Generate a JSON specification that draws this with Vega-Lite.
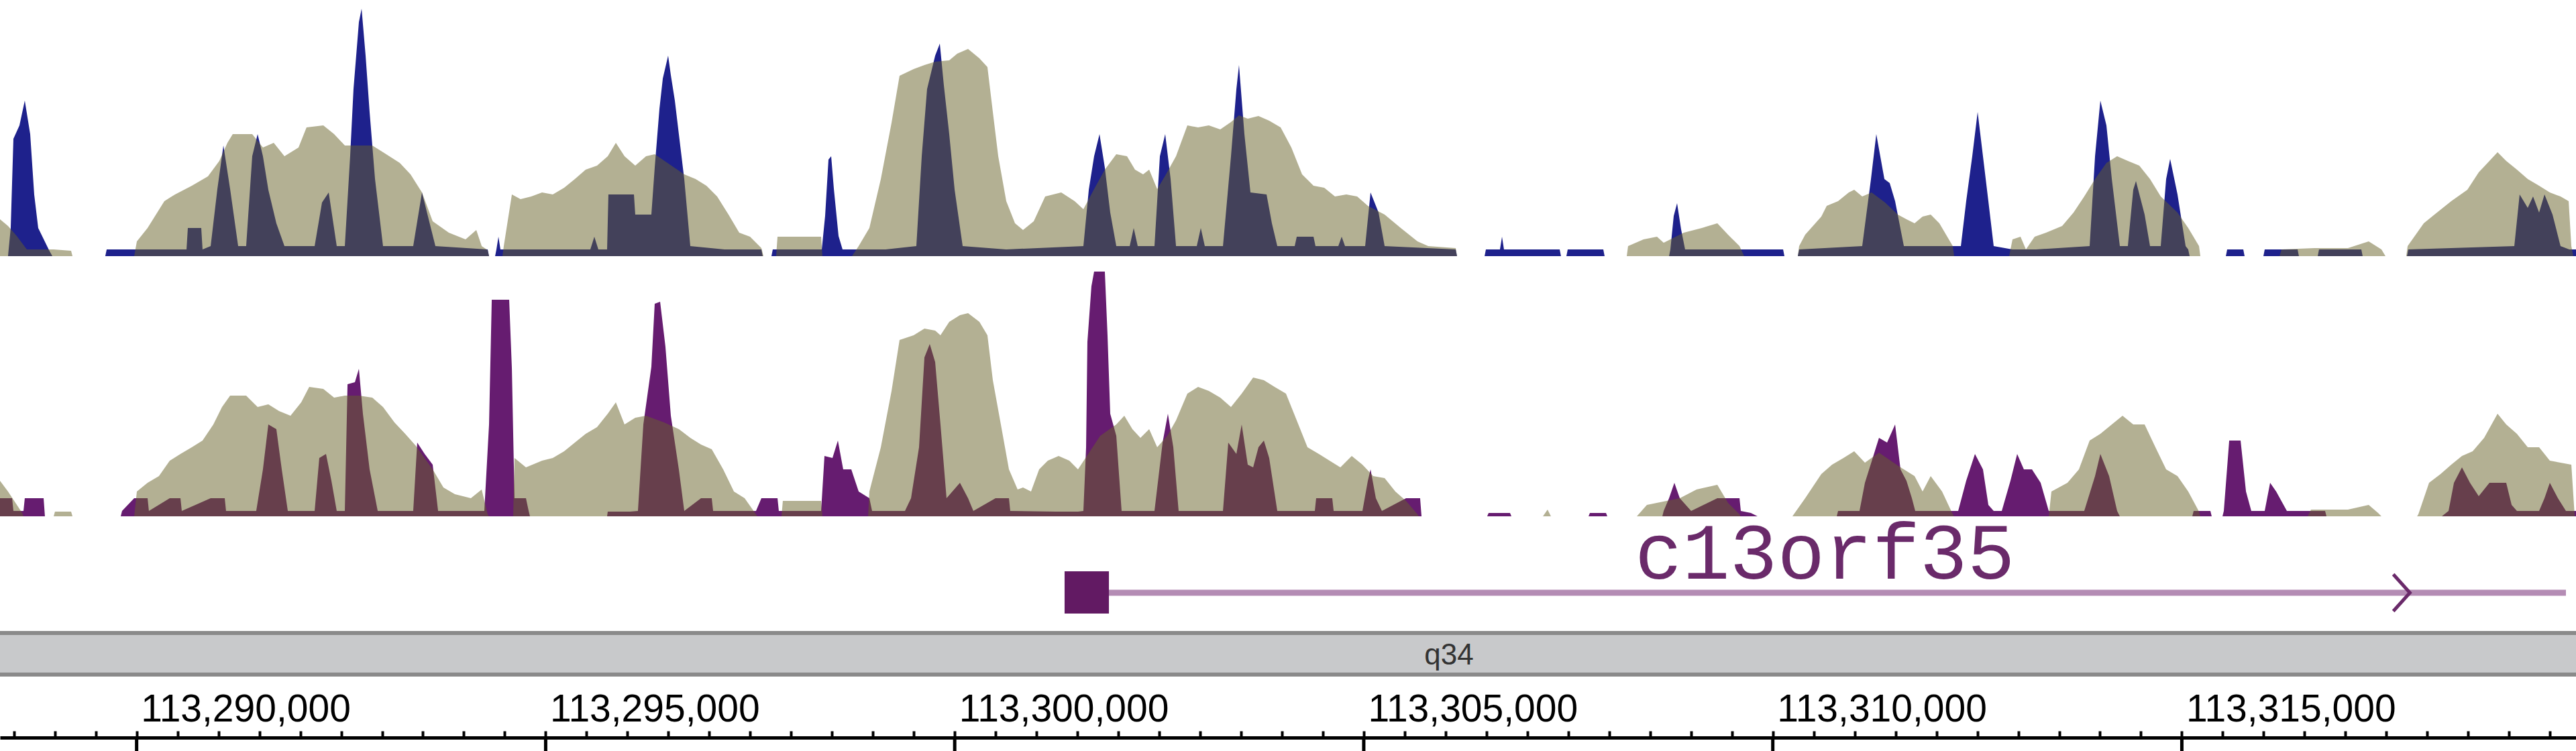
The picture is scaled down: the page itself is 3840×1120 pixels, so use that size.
{
"$schema":"https://vega.github.io/schema/vega-lite/v6.json",
"padding":0,
"background":"white",
"spacing":0,
"bounds":"flush",
"config":{"view":{"stroke":null}},
"datasets":{
"navy":[{"pos":113288428,"v":0},{"pos":113288461,"v":42},{"pos":113288494,"v":175},{"pos":113288568,"v":195},{"pos":113288633,"v":232},{"pos":113288699,"v":182},{"pos":113288748,"v":92},{"pos":113288797,"v":42},{"pos":113288929,"v":9},{"pos":113288970,"v":0},{"pos":113289617,"v":0},{"pos":113289634,"v":10},{"pos":113290610,"v":10},{"pos":113290626,"v":42},{"pos":113290790,"v":42},{"pos":113290806,"v":10},{"pos":113290905,"v":15},{"pos":113290987,"v":100},{"pos":113291061,"v":165},{"pos":113291143,"v":100},{"pos":113291241,"v":15},{"pos":113291339,"v":15},{"pos":113291413,"v":149},{"pos":113291479,"v":182},{"pos":113291544,"v":149},{"pos":113291610,"v":99},{"pos":113291708,"v":49},{"pos":113291807,"v":15},{"pos":113292176,"v":15},{"pos":113292266,"v":80},{"pos":113292348,"v":95},{"pos":113292446,"v":15},{"pos":113292545,"v":15},{"pos":113292610,"v":149},{"pos":113292651,"v":249},{"pos":113292717,"v":349},{"pos":113292750,"v":369},{"pos":113292799,"v":299},{"pos":113292848,"v":215},{"pos":113292914,"v":115},{"pos":113293012,"v":15},{"pos":113293381,"v":15},{"pos":113293488,"v":95},{"pos":113293652,"v":15},{"pos":113294291,"v":10},{"pos":113294308,"v":0},{"pos":113294382,"v":0},{"pos":113294398,"v":10},{"pos":113294423,"v":29},{"pos":113294447,"v":10},{"pos":113295546,"v":10},{"pos":113295595,"v":29},{"pos":113295644,"v":10},{"pos":113295751,"v":10},{"pos":113295767,"v":92},{"pos":113296079,"v":92},{"pos":113296095,"v":62},{"pos":113296292,"v":62},{"pos":113296333,"v":132},{"pos":113296391,"v":220},{"pos":113296432,"v":265},{"pos":113296497,"v":299},{"pos":113296530,"v":270},{"pos":113296579,"v":232},{"pos":113296628,"v":182},{"pos":113296694,"v":115},{"pos":113296768,"v":15},{"pos":113297186,"v":10},{"pos":113297637,"v":10},{"pos":113297653,"v":0},{"pos":113297760,"v":0},{"pos":113297776,"v":10},{"pos":113298375,"v":10},{"pos":113298416,"v":60},{"pos":113298457,"v":144},{"pos":113298490,"v":149},{"pos":113298523,"v":100},{"pos":113298580,"v":30},{"pos":113298629,"v":10},{"pos":113299154,"v":10},{"pos":113299531,"v":15},{"pos":113299597,"v":149},{"pos":113299662,"v":249},{"pos":113299761,"v":299},{"pos":113299818,"v":317},{"pos":113299867,"v":255},{"pos":113299933,"v":182},{"pos":113299999,"v":99},{"pos":113300097,"v":15},{"pos":113300630,"v":10},{"pos":113301573,"v":15},{"pos":113301639,"v":99},{"pos":113301704,"v":149},{"pos":113301770,"v":182},{"pos":113301835,"v":132},{"pos":113301901,"v":65},{"pos":113301975,"v":15},{"pos":113302139,"v":15},{"pos":113302188,"v":42},{"pos":113302237,"v":15},{"pos":113302442,"v":15},{"pos":113302508,"v":149},{"pos":113302573,"v":182},{"pos":113302639,"v":115},{"pos":113302705,"v":15},{"pos":113302959,"v":15},{"pos":113303008,"v":42},{"pos":113303057,"v":15},{"pos":113303279,"v":15},{"pos":113303377,"v":149},{"pos":113303443,"v":249},{"pos":113303475,"v":285},{"pos":113303541,"v":182},{"pos":113303615,"v":95},{"pos":113303812,"v":92},{"pos":113303877,"v":49},{"pos":113303943,"v":15},{"pos":113304156,"v":15},{"pos":113304181,"v":29},{"pos":113304386,"v":29},{"pos":113304410,"v":15},{"pos":113304689,"v":15},{"pos":113304730,"v":29},{"pos":113304771,"v":15},{"pos":113305017,"v":15},{"pos":113305083,"v":95},{"pos":113305181,"v":65},{"pos":113305255,"v":15},{"pos":113306124,"v":10},{"pos":113306140,"v":0},{"pos":113306477,"v":0},{"pos":113306493,"v":10},{"pos":113306665,"v":10},{"pos":113306690,"v":29},{"pos":113306714,"v":10},{"pos":113307395,"v":10},{"pos":113307411,"v":0},{"pos":113307477,"v":0},{"pos":113307493,"v":10},{"pos":113307928,"v":10},{"pos":113307944,"v":0},{"pos":113308732,"v":0},{"pos":113308748,"v":10},{"pos":113308789,"v":60},{"pos":113308830,"v":79},{"pos":113308879,"v":40},{"pos":113308928,"v":10},{"pos":113310126,"v":10},{"pos":113310142,"v":0},{"pos":113310306,"v":0},{"pos":113310322,"v":10},{"pos":113311093,"v":15},{"pos":113311200,"v":115},{"pos":113311265,"v":182},{"pos":113311364,"v":115},{"pos":113311429,"v":109},{"pos":113311495,"v":82},{"pos":113311602,"v":15},{"pos":113312299,"v":15},{"pos":113312364,"v":82},{"pos":113312438,"v":149},{"pos":113312504,"v":215},{"pos":113312569,"v":149},{"pos":113312635,"v":82},{"pos":113312700,"v":15},{"pos":113312930,"v":10},{"pos":113313217,"v":10},{"pos":113313873,"v":15},{"pos":113313939,"v":149},{"pos":113314004,"v":232},{"pos":113314078,"v":195},{"pos":113314144,"v":115},{"pos":113314242,"v":15},{"pos":113314340,"v":15},{"pos":113314406,"v":99},{"pos":113314439,"v":112},{"pos":113314545,"v":62},{"pos":113314611,"v":15},{"pos":113314742,"v":15},{"pos":113314808,"v":115},{"pos":113314857,"v":145},{"pos":113314947,"v":92},{"pos":113315046,"v":15},{"pos":113315078,"v":10},{"pos":113315095,"v":0},{"pos":113315538,"v":0},{"pos":113315554,"v":10},{"pos":113315751,"v":10},{"pos":113315767,"v":0},{"pos":113315997,"v":0},{"pos":113316013,"v":10},{"pos":113316415,"v":10},{"pos":113316431,"v":0},{"pos":113316661,"v":0},{"pos":113316677,"v":10},{"pos":113317194,"v":10},{"pos":113317210,"v":0},{"pos":113317752,"v":0},{"pos":113317768,"v":10},{"pos":113319064,"v":15},{"pos":113319129,"v":92},{"pos":113319228,"v":72},{"pos":113319293,"v":89},{"pos":113319367,"v":65},{"pos":113319433,"v":92},{"pos":113319531,"v":62},{"pos":113319629,"v":15},{"pos":113319736,"v":10},{"pos":113319818,"v":10}],
"khaki1":[{"pos":113288330,"v":55},{"pos":113288428,"v":45},{"pos":113288535,"v":30},{"pos":113288658,"v":10},{"pos":113288986,"v":10},{"pos":113289199,"v":8},{"pos":113289216,"v":0},{"pos":113289970,"v":0},{"pos":113290003,"v":22},{"pos":113290134,"v":42},{"pos":113290339,"v":82},{"pos":113290470,"v":92},{"pos":113290675,"v":105},{"pos":113290872,"v":119},{"pos":113291011,"v":142},{"pos":113291110,"v":169},{"pos":113291175,"v":182},{"pos":113291413,"v":182},{"pos":113291544,"v":162},{"pos":113291676,"v":169},{"pos":113291807,"v":149},{"pos":113291979,"v":162},{"pos":113292077,"v":192},{"pos":113292282,"v":195},{"pos":113292414,"v":182},{"pos":113292545,"v":165},{"pos":113292881,"v":165},{"pos":113293012,"v":155},{"pos":113293217,"v":139},{"pos":113293348,"v":122},{"pos":113293488,"v":95},{"pos":113293619,"v":52},{"pos":113293816,"v":35},{"pos":113294021,"v":25},{"pos":113294152,"v":39},{"pos":113294218,"v":15},{"pos":113294291,"v":9},{"pos":113294308,"v":0},{"pos":113294472,"v":0},{"pos":113294488,"v":15},{"pos":113294587,"v":92},{"pos":113294693,"v":85},{"pos":113294824,"v":89},{"pos":113294956,"v":95},{"pos":113295087,"v":92},{"pos":113295226,"v":102},{"pos":113295357,"v":115},{"pos":113295489,"v":129},{"pos":113295628,"v":135},{"pos":113295759,"v":149},{"pos":113295858,"v":169},{"pos":113295964,"v":149},{"pos":113296095,"v":135},{"pos":113296227,"v":149},{"pos":113296333,"v":152},{"pos":113296694,"v":122},{"pos":113296833,"v":115},{"pos":113296965,"v":105},{"pos":113297096,"v":89},{"pos":113297235,"v":62},{"pos":113297366,"v":35},{"pos":113297498,"v":29},{"pos":113297637,"v":12},{"pos":113297662,"v":0},{"pos":113297817,"v":0},{"pos":113297834,"v":29},{"pos":113298367,"v":29},{"pos":113298383,"v":0},{"pos":113298744,"v":0},{"pos":113298826,"v":15},{"pos":113298957,"v":42},{"pos":113299097,"v":115},{"pos":113299228,"v":199},{"pos":113299326,"v":269},{"pos":113299498,"v":279},{"pos":113299630,"v":285},{"pos":113299761,"v":290},{"pos":113299933,"v":292},{"pos":113300031,"v":302},{"pos":113300163,"v":309},{"pos":113300302,"v":295},{"pos":113300400,"v":282},{"pos":113300466,"v":215},{"pos":113300532,"v":149},{"pos":113300630,"v":82},{"pos":113300737,"v":49},{"pos":113300835,"v":39},{"pos":113300966,"v":52},{"pos":113301106,"v":89},{"pos":113301302,"v":95},{"pos":113301466,"v":82},{"pos":113301573,"v":70},{"pos":113301704,"v":100},{"pos":113301835,"v":129},{"pos":113301975,"v":152},{"pos":113302106,"v":149},{"pos":113302204,"v":129},{"pos":113302303,"v":122},{"pos":113302377,"v":129},{"pos":113302475,"v":100},{"pos":113302573,"v":120},{"pos":113302705,"v":149},{"pos":113302844,"v":195},{"pos":113302975,"v":192},{"pos":113303106,"v":195},{"pos":113303246,"v":189},{"pos":113303377,"v":200},{"pos":113303475,"v":210},{"pos":113303582,"v":205},{"pos":113303713,"v":209},{"pos":113303844,"v":202},{"pos":113303984,"v":192},{"pos":113304115,"v":162},{"pos":113304246,"v":122},{"pos":113304386,"v":105},{"pos":113304517,"v":102},{"pos":113304648,"v":89},{"pos":113304787,"v":92},{"pos":113304919,"v":89},{"pos":113305050,"v":75},{"pos":113305255,"v":62},{"pos":113305452,"v":42},{"pos":113305657,"v":22},{"pos":113305788,"v":15},{"pos":113306124,"v":12},{"pos":113306140,"v":0},{"pos":113308215,"v":0},{"pos":113308231,"v":15},{"pos":113308420,"v":25},{"pos":113308584,"v":29},{"pos":113308666,"v":20},{"pos":113308748,"v":25},{"pos":113308912,"v":35},{"pos":113309133,"v":42},{"pos":113309322,"v":49},{"pos":113309453,"v":32},{"pos":113309593,"v":15},{"pos":113309650,"v":0},{"pos":113310306,"v":0},{"pos":113310322,"v":15},{"pos":113310396,"v":32},{"pos":113310593,"v":59},{"pos":113310659,"v":75},{"pos":113310798,"v":82},{"pos":113310929,"v":95},{"pos":113310995,"v":99},{"pos":113311093,"v":89},{"pos":113311208,"v":95},{"pos":113311372,"v":80},{"pos":113311528,"v":62},{"pos":113311634,"v":55},{"pos":113311733,"v":49},{"pos":113311831,"v":59},{"pos":113311930,"v":62},{"pos":113312036,"v":49},{"pos":113312200,"v":15},{"pos":113312217,"v":0},{"pos":113312889,"v":0},{"pos":113312930,"v":25},{"pos":113313028,"v":29},{"pos":113313094,"v":10},{"pos":113313201,"v":29},{"pos":113313340,"v":35},{"pos":113313537,"v":45},{"pos":113313676,"v":65},{"pos":113313807,"v":89},{"pos":113313939,"v":115},{"pos":113314078,"v":139},{"pos":113314209,"v":149},{"pos":113314340,"v":142},{"pos":113314480,"v":135},{"pos":113314611,"v":115},{"pos":113314742,"v":89},{"pos":113314947,"v":65},{"pos":113315078,"v":42},{"pos":113315210,"v":15},{"pos":113315226,"v":0},{"pos":113316194,"v":0},{"pos":113316218,"v":10},{"pos":113316620,"v":12},{"pos":113317030,"v":12},{"pos":113317284,"v":22},{"pos":113317440,"v":10},{"pos":113317489,"v":0},{"pos":113317743,"v":0},{"pos":113317760,"v":15},{"pos":113317957,"v":49},{"pos":113318088,"v":62},{"pos":113318293,"v":82},{"pos":113318490,"v":99},{"pos":113318629,"v":125},{"pos":113318760,"v":142},{"pos":113318859,"v":155},{"pos":113318965,"v":142},{"pos":113319096,"v":129},{"pos":113319228,"v":115},{"pos":113319367,"v":105},{"pos":113319498,"v":95},{"pos":113319629,"v":89},{"pos":113319728,"v":82},{"pos":113319761,"v":15},{"pos":113319785,"v":0}],
"purple":[{"pos":113288330,"v":27},{"pos":113288478,"v":27},{"pos":113288494,"v":8},{"pos":113288617,"v":8},{"pos":113288633,"v":27},{"pos":113288863,"v":27},{"pos":113288879,"v":0},{"pos":113289806,"v":0},{"pos":113289822,"v":8},{"pos":113289970,"v":27},{"pos":113290134,"v":27},{"pos":113290150,"v":8},{"pos":113290405,"v":27},{"pos":113290536,"v":27},{"pos":113290552,"v":8},{"pos":113290905,"v":27},{"pos":113291077,"v":27},{"pos":113291093,"v":8},{"pos":113291462,"v":8},{"pos":113291544,"v":70},{"pos":113291610,"v":137},{"pos":113291708,"v":130},{"pos":113291774,"v":70},{"pos":113291848,"v":8},{"pos":113292176,"v":8},{"pos":113292233,"v":87},{"pos":113292315,"v":93},{"pos":113292381,"v":53},{"pos":113292446,"v":8},{"pos":113292545,"v":8},{"pos":113292578,"v":197},{"pos":113292668,"v":200},{"pos":113292717,"v":220},{"pos":113292766,"v":153},{"pos":113292848,"v":70},{"pos":113292947,"v":8},{"pos":113293381,"v":8},{"pos":113293430,"v":110},{"pos":113293521,"v":93},{"pos":113293619,"v":77},{"pos":113293685,"v":8},{"pos":113294250,"v":8},{"pos":113294308,"v":137},{"pos":113294341,"v":323},{"pos":113294554,"v":323},{"pos":113294587,"v":220},{"pos":113294619,"v":27},{"pos":113294759,"v":27},{"pos":113294792,"v":8},{"pos":113294808,"v":0},{"pos":113295751,"v":0},{"pos":113295759,"v":7},{"pos":113296030,"v":7},{"pos":113296128,"v":8},{"pos":113296194,"v":137},{"pos":113296292,"v":223},{"pos":113296333,"v":317},{"pos":113296399,"v":320},{"pos":113296464,"v":253},{"pos":113296530,"v":150},{"pos":113296628,"v":70},{"pos":113296694,"v":8},{"pos":113296899,"v":27},{"pos":113297030,"v":27},{"pos":113297047,"v":8},{"pos":113297571,"v":8},{"pos":113297637,"v":27},{"pos":113297834,"v":27},{"pos":113297850,"v":8},{"pos":113298367,"v":8},{"pos":113298408,"v":90},{"pos":113298506,"v":87},{"pos":113298572,"v":113},{"pos":113298637,"v":70},{"pos":113298736,"v":70},{"pos":113298826,"v":37},{"pos":113298957,"v":27},{"pos":113298990,"v":8},{"pos":113299392,"v":8},{"pos":113299466,"v":27},{"pos":113299564,"v":103},{"pos":113299630,"v":237},{"pos":113299695,"v":257},{"pos":113299761,"v":230},{"pos":113299826,"v":137},{"pos":113299900,"v":27},{"pos":113300064,"v":50},{"pos":113300163,"v":27},{"pos":113300228,"v":8},{"pos":113300499,"v":27},{"pos":113300663,"v":27},{"pos":113300679,"v":8},{"pos":113301237,"v":7},{"pos":113301507,"v":7},{"pos":113301573,"v":8},{"pos":113301606,"v":103},{"pos":113301622,"v":260},{"pos":113301671,"v":343},{"pos":113301704,"v":365},{"pos":113301835,"v":365},{"pos":113301868,"v":270},{"pos":113301901,"v":153},{"pos":113301975,"v":120},{"pos":113302040,"v":8},{"pos":113302442,"v":8},{"pos":113302541,"v":110},{"pos":113302606,"v":153},{"pos":113302672,"v":103},{"pos":113302737,"v":8},{"pos":113303279,"v":8},{"pos":113303344,"v":110},{"pos":113303443,"v":93},{"pos":113303508,"v":137},{"pos":113303582,"v":77},{"pos":113303648,"v":73},{"pos":113303713,"v":103},{"pos":113303779,"v":113},{"pos":113303844,"v":87},{"pos":113303943,"v":8},{"pos":113304402,"v":8},{"pos":113304418,"v":27},{"pos":113304615,"v":27},{"pos":113304632,"v":8},{"pos":113304984,"v":8},{"pos":113305050,"v":53},{"pos":113305083,"v":70},{"pos":113305148,"v":27},{"pos":113305222,"v":8},{"pos":113305517,"v":27},{"pos":113305689,"v":27},{"pos":113305706,"v":0},{"pos":113306509,"v":0},{"pos":113306526,"v":5},{"pos":113306788,"v":5},{"pos":113306805,"v":0},{"pos":113307748,"v":0},{"pos":113307764,"v":5},{"pos":113307961,"v":5},{"pos":113307977,"v":0},{"pos":113308650,"v":0},{"pos":113308666,"v":8},{"pos":113308732,"v":27},{"pos":113308797,"v":50},{"pos":113308863,"v":27},{"pos":113309002,"v":8},{"pos":113309322,"v":27},{"pos":113309593,"v":27},{"pos":113309609,"v":8},{"pos":113309732,"v":5},{"pos":113309814,"v":0},{"pos":113310782,"v":0},{"pos":113310798,"v":8},{"pos":113311060,"v":8},{"pos":113311126,"v":50},{"pos":113311298,"v":117},{"pos":113311397,"v":110},{"pos":113311495,"v":137},{"pos":113311561,"v":70},{"pos":113311634,"v":53},{"pos":113311700,"v":27},{"pos":113311741,"v":8},{"pos":113312266,"v":8},{"pos":113312364,"v":53},{"pos":113312471,"v":93},{"pos":113312569,"v":70},{"pos":113312635,"v":17},{"pos":113312700,"v":8},{"pos":113312799,"v":8},{"pos":113312905,"v":53},{"pos":113312987,"v":93},{"pos":113313069,"v":70},{"pos":113313168,"v":70},{"pos":113313274,"v":50},{"pos":113313373,"v":8},{"pos":113313807,"v":8},{"pos":113313939,"v":60},{"pos":113314004,"v":93},{"pos":113314111,"v":60},{"pos":113314209,"v":8},{"pos":113314242,"v":0},{"pos":113315128,"v":0},{"pos":113315144,"v":8},{"pos":113315349,"v":8},{"pos":113315365,"v":0},{"pos":113315497,"v":0},{"pos":113315513,"v":8},{"pos":113315579,"v":113},{"pos":113315718,"v":113},{"pos":113315784,"v":37},{"pos":113315849,"v":8},{"pos":113316013,"v":8},{"pos":113316079,"v":50},{"pos":113316153,"v":37},{"pos":113316284,"v":8},{"pos":113316751,"v":8},{"pos":113316768,"v":0},{"pos":113318178,"v":0},{"pos":113318260,"v":8},{"pos":113318326,"v":50},{"pos":113318424,"v":73},{"pos":113318522,"v":50},{"pos":113318629,"v":30},{"pos":113318760,"v":50},{"pos":113318965,"v":50},{"pos":113319031,"v":17},{"pos":113319096,"v":8},{"pos":113319367,"v":8},{"pos":113319433,"v":27},{"pos":113319498,"v":50},{"pos":113319597,"v":27},{"pos":113319695,"v":8},{"pos":113319818,"v":8}],
"khaki2":[{"pos":113288330,"v":53},{"pos":113288428,"v":37},{"pos":113288601,"v":5},{"pos":113288617,"v":0},{"pos":113288986,"v":0},{"pos":113289002,"v":7},{"pos":113289199,"v":7},{"pos":113289216,"v":0},{"pos":113289970,"v":0},{"pos":113290003,"v":37},{"pos":113290134,"v":50},{"pos":113290273,"v":60},{"pos":113290405,"v":83},{"pos":113290536,"v":93},{"pos":113290675,"v":103},{"pos":113290806,"v":113},{"pos":113290938,"v":137},{"pos":113291044,"v":163},{"pos":113291143,"v":180},{"pos":113291339,"v":180},{"pos":113291479,"v":163},{"pos":113291610,"v":167},{"pos":113291741,"v":157},{"pos":113291881,"v":150},{"pos":113292012,"v":170},{"pos":113292110,"v":193},{"pos":113292282,"v":190},{"pos":113292414,"v":177},{"pos":113292545,"v":180},{"pos":113292717,"v":180},{"pos":113292881,"v":177},{"pos":113293012,"v":163},{"pos":113293152,"v":140},{"pos":113293283,"v":123},{"pos":113293414,"v":105},{"pos":113293619,"v":70},{"pos":113293750,"v":43},{"pos":113293890,"v":33},{"pos":113294086,"v":27},{"pos":113294218,"v":40},{"pos":113294291,"v":3},{"pos":113294308,"v":0},{"pos":113294603,"v":0},{"pos":113294619,"v":87},{"pos":113294759,"v":73},{"pos":113294956,"v":83},{"pos":113295087,"v":87},{"pos":113295226,"v":97},{"pos":113295357,"v":110},{"pos":113295489,"v":123},{"pos":113295628,"v":133},{"pos":113295759,"v":153},{"pos":113295858,"v":170},{"pos":113295964,"v":137},{"pos":113296095,"v":147},{"pos":113296227,"v":150},{"pos":113296448,"v":140},{"pos":113296628,"v":130},{"pos":113296768,"v":117},{"pos":113296899,"v":107},{"pos":113297030,"v":100},{"pos":113297170,"v":70},{"pos":113297301,"v":37},{"pos":113297432,"v":27},{"pos":113297571,"v":3},{"pos":113297588,"v":0},{"pos":113297883,"v":0},{"pos":113297899,"v":23},{"pos":113298367,"v":23},{"pos":113298383,"v":0},{"pos":113298941,"v":0},{"pos":113298957,"v":37},{"pos":113299097,"v":103},{"pos":113299228,"v":187},{"pos":113299326,"v":263},{"pos":113299498,"v":270},{"pos":113299630,"v":280},{"pos":113299761,"v":277},{"pos":113299826,"v":270},{"pos":113299933,"v":290},{"pos":113300064,"v":300},{"pos":113300163,"v":303},{"pos":113300302,"v":290},{"pos":113300400,"v":270},{"pos":113300466,"v":203},{"pos":113300564,"v":137},{"pos":113300663,"v":70},{"pos":113300769,"v":40},{"pos":113300835,"v":43},{"pos":113300933,"v":37},{"pos":113301032,"v":70},{"pos":113301138,"v":83},{"pos":113301270,"v":90},{"pos":113301401,"v":83},{"pos":113301507,"v":70},{"pos":113301778,"v":120},{"pos":113301975,"v":137},{"pos":113302073,"v":150},{"pos":113302172,"v":130},{"pos":113302270,"v":117},{"pos":113302377,"v":130},{"pos":113302475,"v":103},{"pos":113302598,"v":120},{"pos":113302705,"v":143},{"pos":113302844,"v":183},{"pos":113302975,"v":193},{"pos":113303106,"v":187},{"pos":113303246,"v":177},{"pos":113303377,"v":163},{"pos":113303508,"v":183},{"pos":113303648,"v":207},{"pos":113303779,"v":203},{"pos":113303910,"v":193},{"pos":113304049,"v":183},{"pos":113304181,"v":143},{"pos":113304312,"v":103},{"pos":113304451,"v":93},{"pos":113304582,"v":83},{"pos":113304714,"v":73},{"pos":113304853,"v":90},{"pos":113304984,"v":77},{"pos":113305115,"v":60},{"pos":113305255,"v":57},{"pos":113305386,"v":37},{"pos":113305517,"v":23},{"pos":113305657,"v":3},{"pos":113305673,"v":0},{"pos":113307190,"v":0},{"pos":113307247,"v":10},{"pos":113307288,"v":0},{"pos":113308338,"v":0},{"pos":113308461,"v":17},{"pos":113308863,"v":27},{"pos":113309068,"v":40},{"pos":113309322,"v":47},{"pos":113309453,"v":20},{"pos":113309593,"v":3},{"pos":113309609,"v":0},{"pos":113310240,"v":0},{"pos":113310257,"v":3},{"pos":113310396,"v":27},{"pos":113310593,"v":63},{"pos":113310724,"v":77},{"pos":113310864,"v":87},{"pos":113310995,"v":97},{"pos":113311126,"v":80},{"pos":113311298,"v":95},{"pos":113311536,"v":75},{"pos":113311733,"v":60},{"pos":113311831,"v":37},{"pos":113311930,"v":60},{"pos":113312069,"v":37},{"pos":113312200,"v":3},{"pos":113312217,"v":0},{"pos":113313373,"v":0},{"pos":113313406,"v":37},{"pos":113313602,"v":50},{"pos":113313742,"v":70},{"pos":113313873,"v":113},{"pos":113314004,"v":123},{"pos":113314144,"v":137},{"pos":113314275,"v":150},{"pos":113314406,"v":137},{"pos":113314545,"v":137},{"pos":113314677,"v":103},{"pos":113314808,"v":70},{"pos":113314947,"v":60},{"pos":113315078,"v":37},{"pos":113315210,"v":7},{"pos":113315226,"v":0},{"pos":113316538,"v":0},{"pos":113316579,"v":10},{"pos":113317030,"v":10},{"pos":113317284,"v":17},{"pos":113317399,"v":5},{"pos":113317440,"v":0},{"pos":113317875,"v":0},{"pos":113317891,"v":3},{"pos":113318022,"v":50},{"pos":113318162,"v":63},{"pos":113318293,"v":77},{"pos":113318424,"v":90},{"pos":113318555,"v":97},{"pos":113318695,"v":117},{"pos":113318859,"v":153},{"pos":113318965,"v":137},{"pos":113319096,"v":123},{"pos":113319228,"v":103},{"pos":113319367,"v":103},{"pos":113319498,"v":83},{"pos":113319629,"v":80},{"pos":113319761,"v":77},{"pos":113319802,"v":0}],
"gene":[{"name":"c13orf35","exonStart":113301343,"exonEnd":113301885,"txEnd":113319695,"strandMark":113317686,"labelPos":113308313}],
"band":[{"name":"q34","start":113288000,"end":113320200,"labelPos":113306042}],
"majorTicks":[{"pos":113290000},{"pos":113295000},{"pos":113300000},{"pos":113305000},{"pos":113310000},{"pos":113315000}]
},
"vconcat":[
{"width":3840,"height":382,"layer":[
 {"data":{"name":"navy"},"mark":{"type":"area","color":"#1e218c","interpolate":"linear"},
  "encoding":{"x":{"field":"pos","type":"quantitative","scale":{"domain":[113288330,113319818],"nice":false,"zero":false},"axis":null},
   "y":{"field":"v","type":"quantitative","scale":{"domain":[0,382],"nice":false},"axis":null}}},
 {"data":{"name":"khaki1"},"mark":{"type":"area","color":"#676127","opacity":0.5,"interpolate":"linear"},
  "encoding":{"x":{"field":"pos","type":"quantitative"},"y":{"field":"v","type":"quantitative"}}}
]},
{"width":3840,"height":388,"layer":[
 {"data":{"name":"purple"},"mark":{"type":"area","color":"#661c70","interpolate":"linear"},
  "encoding":{"x":{"field":"pos","type":"quantitative","scale":{"domain":[113288330,113319818],"nice":false,"zero":false},"axis":null},
   "y":{"field":"v","type":"quantitative","scale":{"domain":[0,388],"nice":false},"axis":null}}},
 {"data":{"name":"khaki2"},"mark":{"type":"area","color":"#676127","opacity":0.5,"interpolate":"linear"},
  "encoding":{"x":{"field":"pos","type":"quantitative"},"y":{"field":"v","type":"quantitative"}}}
]},
{"width":3840,"height":170,"data":{"name":"gene"},"layer":[
 {"mark":{"type":"rule","color":"#b48cb4","strokeWidth":9},
  "encoding":{"x":{"field":"exonEnd","type":"quantitative","scale":{"domain":[113288330,113319818],"nice":false,"zero":false},"axis":null},
   "x2":{"field":"txEnd"},
   "y":{"datum":56,"type":"quantitative","scale":{"domain":[0,170],"nice":false},"axis":null}}},
 {"mark":{"type":"rect","color":"#621a63"},
  "encoding":{"x":{"field":"exonStart","type":"quantitative"},"x2":{"field":"exonEnd"},"y":{"datum":25,"type":"quantitative"},"y2":{"datum":88}}},
 {"mark":{"type":"point","shape":"M-0.45,-1L0.45,0L-0.45,1","filled":false,"stroke":"#6a2a6a","strokeWidth":5,"size":3025,"opacity":1},
  "encoding":{"x":{"field":"strandMark","type":"quantitative"},"y":{"datum":56,"type":"quantitative"}}},
 {"mark":{"type":"text","font":"Liberation Mono","fontSize":118,"color":"#6a2a6a","align":"left","baseline":"alphabetic"},
  "encoding":{"x":{"field":"labelPos","type":"quantitative"},"y":{"datum":77,"type":"quantitative"},"text":{"field":"name"}}}
]},
{"width":3840,"height":160,"data":{"name":"band"},"layer":[
 {"mark":{"type":"rect","fill":"#c8c9cb","stroke":"#8a8a8a","strokeWidth":6,"clip":true},
  "encoding":{"x":{"field":"start","type":"quantitative","scale":{"domain":[113288330,113319818],"nice":false,"zero":false},"axis":null},
   "x2":{"field":"end"},
   "y":{"datum":94,"type":"quantitative","scale":{"domain":[0,160],"nice":false},"axis":null},"y2":{"datum":156}}},
 {"mark":{"type":"text","font":"Liberation Sans","fontSize":44,"color":"#333333","align":"center","baseline":"middle"},
  "encoding":{"x":{"field":"labelPos","type":"quantitative"},"y":{"datum":122,"type":"quantitative"},"text":{"field":"name"}}}
]},
{"width":3840,"height":20,"data":{"name":"majorTicks"},
 "mark":{"type":"rule","color":"black","strokeWidth":5},
 "encoding":{"x":{"field":"pos","type":"quantitative","scale":{"domain":[113288330,113319818],"nice":false,"zero":false},
   "axis":{"orient":"top","title":null,"grid":false,"domain":true,"domainColor":"black","domainWidth":5,"ticks":true,"tickSize":10,"tickWidth":4,"tickColor":"black",
    "values":[113288500,113289000,113289500,113290000,113290500,113291000,113291500,113292000,113292500,113293000,113293500,113294000,113294500,113295000,113295500,113296000,113296500,113297000,113297500,113298000,113298500,113299000,113299500,113300000,113300500,113301000,113301500,113302000,113302500,113303000,113303500,113304000,113304500,113305000,113305500,113306000,113306500,113307000,113307500,113308000,113308500,113309000,113309500,113310000,113310500,113311000,113311500,113312000,113312500,113313000,113313500,113314000,113314500,113315000,113315500,113316000,113316500,113317000,113317500,113318000,113318500,113319000,113319500],
    "labelExpr":"datum.value % 5000 === 0 ? format(datum.value, ',') : ''",
    "labelFont":"Liberation Sans","labelFontSize":57,"labelColor":"black","labelAlign":"left","labelBaseline":"alphabetic","labelPadding":15,"labelOffset":6,"labelOverlap":false,"labelFlush":false,"labelLimit":0}}}
}
]
}
